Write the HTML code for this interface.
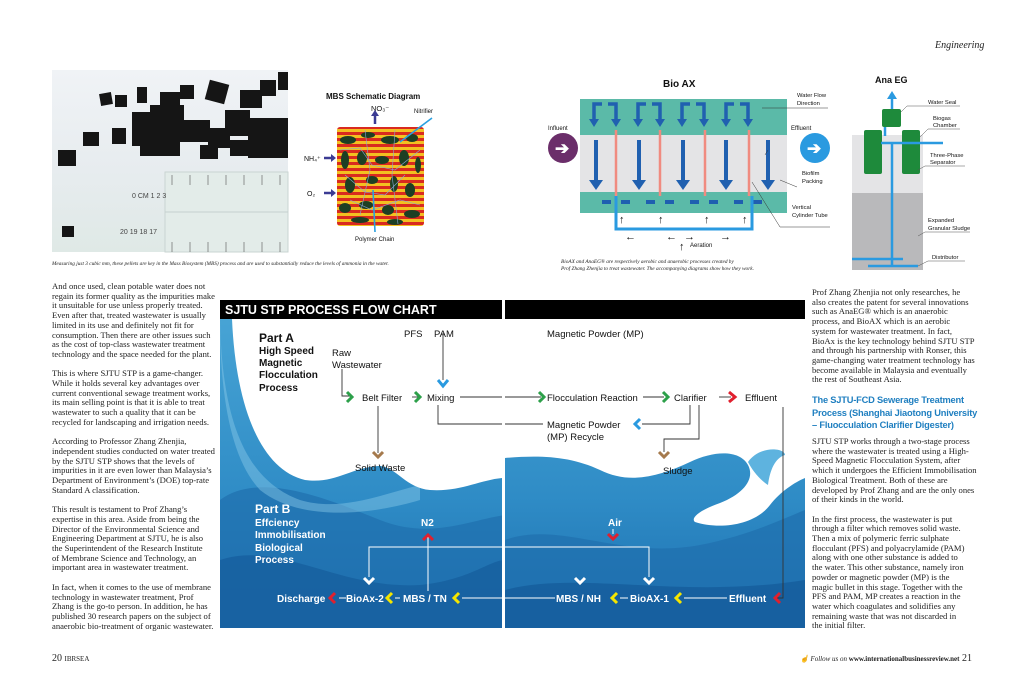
<!DOCTYPE html>
<html><head><meta charset="utf-8"><style>
body{margin:0;width:1024px;height:682px;background:#fff;position:relative;overflow:hidden;font-family:"Liberation Serif",serif;}
.col{position:absolute;font-size:8.6px;line-height:9.7px;color:#222;white-space:pre;}
.abs{position:absolute;}
</style></head><body>
<svg width="1024" height="682" style="position:absolute;left:0;top:0" font-family="Liberation Sans, sans-serif">
<defs>
<linearGradient id="bg" x1="0" y1="0" x2="0" y2="1"><stop offset="0" stop-color="#4aa6d6"/><stop offset="0.6" stop-color="#2f8cc6"/><stop offset="1" stop-color="#1c6fb0"/></linearGradient>
<pattern id="stripe" width="6" height="6" patternUnits="userSpaceOnUse"><rect width="6" height="3" fill="#d92a1f"/><rect y="3" width="6" height="3" fill="#f3c020"/></pattern>
<linearGradient id="photo" x1="0" y1="0" x2="0" y2="1"><stop offset="0" stop-color="#f0f3f6"/><stop offset="0.55" stop-color="#e7ecef"/><stop offset="1" stop-color="#dfe9e6"/></linearGradient>
</defs>

<!-- Photo -->
<rect x="52" y="70" width="236" height="182" fill="url(#photo)"/>
<rect x="165" y="172" width="123" height="80" fill="#e3ece9" stroke="#c9d4d2"/>
<line x1="165" y1="212" x2="288" y2="212" stroke="#c5d0cf"/>
<g stroke="#555" stroke-width="0.6">
<line x1="172" y1="175" x2="172" y2="185"/><line x1="190" y1="175" x2="190" y2="185"/><line x1="208" y1="175" x2="208" y2="185"/><line x1="226" y1="175" x2="226" y2="185"/><line x1="244" y1="175" x2="244" y2="185"/><line x1="262" y1="175" x2="262" y2="185"/><line x1="280" y1="175" x2="280" y2="185"/>
<line x1="172" y1="242" x2="172" y2="252"/><line x1="190" y1="242" x2="190" y2="252"/><line x1="208" y1="242" x2="208" y2="252"/><line x1="226" y1="242" x2="226" y2="252"/><line x1="244" y1="242" x2="244" y2="252"/><line x1="262" y1="242" x2="262" y2="252"/><line x1="280" y1="242" x2="280" y2="252"/>
</g>
<g font-size="7" fill="#444"><text x="132" y="198">0  CM    1         2         3</text><text x="120" y="234">20         19         18         17</text></g>
<g fill="#151515">
<rect x="100" y="93" width="12" height="12" transform="rotate(-10 106 99)"/><rect x="115" y="95" width="12" height="12"/><rect x="137" y="87" width="10" height="16"/><rect x="160" y="92" width="20" height="16"/><rect x="180" y="85" width="14" height="14"/><rect x="207" y="82" width="20" height="20" transform="rotate(15 217 92)"/><rect x="240" y="90" width="22" height="18"/><rect x="260" y="80" width="16" height="16"/><rect x="278" y="72" width="10" height="18"/>
<rect x="83" y="132" width="16" height="14"/><rect x="112" y="128" width="14" height="16"/><rect x="132" y="112" width="26" height="34"/><rect x="150" y="105" width="34" height="30"/><rect x="140" y="128" width="40" height="28"/><rect x="180" y="120" width="30" height="22"/><rect x="208" y="128" width="22" height="20"/><rect x="225" y="110" width="25" height="26"/><rect x="248" y="118" width="40" height="40"/><rect x="230" y="140" width="24" height="16"/><rect x="200" y="145" width="18" height="14"/>
<rect x="58" y="150" width="18" height="16"/><rect x="62" y="226" width="12" height="11"/>
</g>
<text x="52" y="265" font-family="Liberation Serif, serif" font-style="italic" font-size="5.3" fill="#222">Measuring just 3 cubic mm, these pellets are key in the Mass Biosystem (MBS) process and are used to substantially reduce the levels of ammonia in the water.</text>

<!-- MBS -->
<text x="326" y="99" font-size="8" font-weight="bold" fill="#111">MBS Schematic Diagram</text>
<text x="371" y="111" font-size="7.5" fill="#111">NO₃⁻</text>
<text x="414" y="113" font-size="6" fill="#111">Nitrifier</text>
<rect x="337" y="127" width="87" height="99" rx="3" fill="url(#stripe)"/>
<g fill="#1d3f24">
<ellipse cx="348" cy="140" rx="8" ry="4"/><ellipse cx="368" cy="135" rx="7" ry="3"/><ellipse cx="390" cy="140" rx="9" ry="4"/><ellipse cx="412" cy="138" rx="6" ry="4"/><ellipse cx="345" cy="160" rx="4" ry="9"/><ellipse cx="362" cy="158" rx="5" ry="7"/><ellipse cx="382" cy="160" rx="7" ry="4"/><ellipse cx="404" cy="158" rx="5" ry="8"/><ellipse cx="418" cy="165" rx="3" ry="8"/><ellipse cx="350" cy="185" rx="5" ry="8"/><ellipse cx="372" cy="180" rx="6" ry="4"/><ellipse cx="394" cy="184" rx="4" ry="8"/><ellipse cx="410" cy="190" rx="5" ry="7"/><ellipse cx="345" cy="208" rx="6" ry="5"/><ellipse cx="366" cy="205" rx="7" ry="4"/><ellipse cx="388" cy="210" rx="6" ry="5"/><ellipse cx="412" cy="214" rx="8" ry="4"/><ellipse cx="360" cy="220" rx="9" ry="3"/><ellipse cx="395" cy="222" rx="8" ry="3"/>
</g>
<g stroke="#8aa6d6" stroke-width="0.6" fill="none"><path d="M340 150 L360 148 L372 165 L395 170 L420 150 M345 175 L365 192 L385 195 L405 175 M350 200 L372 210 L400 200 L420 205 M365 130 L370 170 L360 215 M395 130 L392 175 L398 224"/></g>
<path d="M375 124 V114" stroke="#3b3b93" stroke-width="2.5"/><path d="M371 116 L375 110 L379 116Z" fill="#3b3b93"/>
<path d="M324 158 H333" stroke="#3b3b93" stroke-width="2.5"/><path d="M331 154 L336 158 L331 162Z" fill="#3b3b93"/>
<path d="M324 193 H333" stroke="#3b3b93" stroke-width="2.5"/><path d="M331 189 L336 193 L331 197Z" fill="#3b3b93"/>
<text x="304" y="161" font-size="7" fill="#111">NH₄⁺</text>
<text x="307" y="196" font-size="7" fill="#111">O₂</text>
<line x1="432" y1="118" x2="400" y2="142" stroke="#2aa0e0" stroke-width="1.6"/>
<line x1="373" y1="190" x2="375" y2="232" stroke="#2aa0e0" stroke-width="1.6"/>
<text x="355" y="241" font-size="6" fill="#111">Polymer Chain</text>

<!-- Bio AX -->
<text x="663" y="87" font-size="10" font-weight="bold" fill="#111">Bio AX</text>
<rect x="580" y="99" width="207" height="36" fill="#5bbaa8"/>
<rect x="580" y="135" width="207" height="57" fill="#e4e4e6"/>
<rect x="580" y="192" width="207" height="21" fill="#5bbaa8"/>
<g stroke="#2060b0" stroke-width="3.5" fill="none">
<path d="M602 104 H594 V120 M608 104 H616 V120"/>
<path d="M646 104 H638 V120 M652 104 H660 V120"/>
<path d="M690 104 H682 V120 M696 104 H704 V120"/>
<path d="M734 104 H726 V120 M740 104 H748 V120"/>
</g>
<g fill="#2060b0"><path d="M589 119 L599 119 L594 127Z"/><path d="M611 119 L621 119 L616 127Z"/><path d="M633 119 L643 119 L638 127Z"/><path d="M655 119 L665 119 L660 127Z"/><path d="M677 119 L687 119 L682 127Z"/><path d="M699 119 L709 119 L704 127Z"/><path d="M721 119 L731 119 L726 127Z"/><path d="M743 119 L753 119 L748 127Z"/></g>
<g stroke="#2060b0" stroke-width="4"><line x1="596" y1="140" x2="596" y2="182"/><line x1="639" y1="140" x2="639" y2="182"/><line x1="683" y1="140" x2="683" y2="182"/><line x1="726" y1="140" x2="726" y2="182"/><line x1="768" y1="140" x2="768" y2="182"/></g>
<g fill="#2060b0"><path d="M589 180 L603 180 L596 190Z"/><path d="M632 180 L646 180 L639 190Z"/><path d="M676 180 L690 180 L683 190Z"/><path d="M719 180 L733 180 L726 190Z"/><path d="M761 180 L775 180 L768 190Z"/></g>
<g stroke="#f08b80" stroke-width="2.5"><line x1="616" y1="130" x2="616" y2="196"/><line x1="660" y1="130" x2="660" y2="196"/><line x1="705" y1="130" x2="705" y2="196"/><line x1="749" y1="130" x2="749" y2="196"/></g>
<g fill="#1f5fb0"><rect x="602" y="200" width="9" height="4"/><rect x="621" y="200" width="9" height="4"/><rect x="646" y="200" width="9" height="4"/><rect x="665" y="200" width="9" height="4"/><rect x="690" y="200" width="9" height="4"/><rect x="709" y="200" width="9" height="4"/><rect x="734" y="200" width="9" height="4"/><rect x="753" y="200" width="9" height="4"/></g>
<path d="M616 196 V229 H752 V196" fill="none" stroke="#2a9ae0" stroke-width="3"/>
<g font-size="11" font-weight="bold" fill="#111"><text x="619" y="223">↑</text><text x="658" y="223">↑</text><text x="704" y="223">↑</text><text x="742" y="223">↑</text><text x="625" y="240">←</text><text x="666" y="240">←</text><text x="684" y="240">→</text><text x="720" y="240">→</text><text x="679" y="250">↑</text></g>
<text x="690" y="247" font-size="6" fill="#111">Aeration</text>
<circle cx="563" cy="148" r="15" fill="#6b2e6a"/><text x="555" y="154" font-size="17" font-weight="bold" fill="#fff">➔</text>
<circle cx="815" cy="148" r="15" fill="#2a9ae0"/><text x="807" y="154" font-size="17" font-weight="bold" fill="#fff">➔</text>
<text x="548" y="130" font-size="6" fill="#111">Influent</text>
<text x="791" y="130" font-size="6" fill="#111">Effluent</text>
<g font-size="5.8" fill="#111"><text x="797" y="97">Water Flow</text><text x="797" y="105">Direction</text><text x="802" y="175">Biofilm</text><text x="802" y="183">Packing</text><text x="792" y="209">Vertical</text><text x="792" y="217">Cylinder Tube</text></g>
<g stroke="#333" stroke-width="0.5" fill="none"><path d="M762 108 H828"/><path d="M768 150 L765 155"/><path d="M780 180 L797 187"/><path d="M752 182 L780 227 H830"/></g>
<text x="561" y="263" font-family="Liberation Serif, serif" font-style="italic" font-size="5.3" fill="#222">BioAX and AnaEG® are respectively aerobic and anaerobic processes created by</text>
<text x="561" y="270" font-family="Liberation Serif, serif" font-style="italic" font-size="5.3" fill="#222">Prof Zhang Zhenjia to treat wastewater. The accompanying diagrams show how they work.</text>

<!-- Ana EG -->
<text x="875" y="83" font-size="9" font-weight="bold" fill="#111">Ana EG</text>
<rect x="852" y="135" width="71" height="58" fill="#e4e4e6"/>
<rect x="852" y="193" width="71" height="77" fill="#b9b9bb"/>
<rect x="864" y="130" width="18" height="44" rx="2" fill="#1e8a3b"/>
<rect x="902" y="130" width="18" height="44" rx="2" fill="#1e8a3b"/>
<rect x="882" y="109" width="19" height="18" rx="2" fill="#1e8a3b"/>
<g stroke="#2a9ae0" stroke-width="2.5"><line x1="892" y1="97" x2="892" y2="109"/><line x1="885" y1="127" x2="885" y2="136"/><line x1="892" y1="143" x2="892" y2="266"/><line x1="881" y1="143" x2="943" y2="143"/><line x1="852" y1="259" x2="903" y2="259"/><line x1="868" y1="266" x2="918" y2="266"/></g>
<path d="M887 99 L892 91 L897 99Z" fill="#2a9ae0"/>
<g font-size="5.8" fill="#111"><text x="928" y="104">Water Seal</text><text x="933" y="120">Biogas</text><text x="933" y="127">Chamber</text><text x="930" y="157">Three-Phase</text><text x="930" y="164">Separator</text><text x="928" y="222">Expanded</text><text x="928" y="230">Granular Sludge</text><text x="932" y="259">Distributor</text></g>
<g stroke="#555" stroke-width="0.5" fill="none"><path d="M901 112 L907 106 H960"/><path d="M920 137 L928 129 H960"/><path d="M918 170 L925 166 H965"/><path d="M918 236 L925 232 H970"/><path d="M918 266 L928 261 H965"/></g>
<text x="935" y="48" font-family="Liberation Serif, serif" font-style="italic" font-size="10" fill="#222">Engineering</text>

<!-- Flow chart -->
<rect x="220" y="300" width="585" height="328" fill="url(#bg)"/>
<path d="M220 500 C260 470 330 500 380 520 C430 540 470 520 505 515 L505 628 L220 628Z" fill="#1f6fae" opacity="0.7"/>
<path d="M220 560 C280 540 340 590 420 585 C470 580 490 560 505 560 L505 628 L220 628Z" fill="#165f9f" opacity="0.8"/>
<path d="M505 540 C560 520 620 560 700 545 C750 535 780 520 805 510 L805 628 L505 628Z" fill="#1f6fae" opacity="0.7"/>
<path d="M505 590 C580 570 680 600 805 580 L805 628 L505 628Z" fill="#155c9c" opacity="0.8"/>
<path d="M220 319 C222 420 245 480 300 500 C340 512 380 495 420 485 L420 500 C370 515 300 522 260 490 C232 460 220 400 220 319Z" fill="#8ac9e9" opacity="0.45"/>
<path d="M232 319 H502 V478 C480 480 460 492 430 490 C405 488 395 465 378 466 C350 468 335 484 305 480 C262 470 236 410 232 319Z" fill="#fff"/>
<path d="M505 319 H805 V478 C795 482 780 492 770 505 C755 525 720 530 695 522 C690 518 700 510 720 503 C745 493 755 478 748 465 C740 450 715 450 690 462 C660 476 630 485 600 470 C570 456 540 455 505 458Z" fill="#fff"/>
<path d="M748 462 C760 445 785 448 785 455 C775 458 770 470 768 485 C760 480 752 470 748 462Z" fill="#5eb3df"/>
<rect x="502" y="300" width="3" height="328" fill="#fff"/>
<rect x="220" y="300" width="282" height="19" fill="#000"/>
<rect x="505" y="300" width="300" height="19" fill="#000"/>
<text x="225" y="314" font-size="12.5" font-weight="bold" fill="#fff">SJTU STP PROCESS FLOW CHART</text>

<g fill="#111">
<text x="259" y="342" font-size="12" font-weight="bold">Part A</text>
<g font-size="10" font-weight="bold"><text x="259" y="354">High Speed</text><text x="259" y="366">Magnetic</text><text x="259" y="378">Flocculation</text><text x="259" y="391">Process</text></g>
<g font-size="9.5"><text x="332" y="356">Raw</text><text x="332" y="368">Wastewater</text><text x="404" y="337">PFS</text><text x="434" y="337">PAM</text><text x="547" y="337">Magnetic Powder (MP)</text>
<text x="362" y="401">Belt Filter</text><text x="427" y="401">Mixing</text><text x="547" y="401">Flocculation Reaction</text><text x="674" y="401">Clarifier</text><text x="745" y="401">Effluent</text>
<text x="547" y="428">Magnetic Powder</text><text x="547" y="440">(MP) Recycle</text><text x="355" y="471">Solid Waste</text><text x="663" y="474">Sludge</text></g>
</g>
<g stroke="#333" stroke-width="0.9" fill="none">
<path d="M342 369 V396 H350"/><path d="M412 397 H420"/><path d="M443 333 V380"/><path d="M460 397 H502 M505 397 H541"/><path d="M643 397 H664"/><path d="M719 397 H731"/>
<path d="M438 405 V424 H502 M505 424 H543"/><path d="M690 405 V424 H642"/><path d="M699 405 V439 H664 V452"/><path d="M378 406 V453"/><path d="M783 407 V598 H777"/>
</g>
<g fill="none" stroke-width="3" stroke-linecap="butt" stroke-linejoin="miter">
<polyline points="347,392 352,397 347,402" stroke="#2da04a"/><polyline points="415,392 420,397 415,402" stroke="#2da04a"/><polyline points="539,392 544,397 539,402" stroke="#2da04a"/><polyline points="663,392 668,397 663,402" stroke="#2da04a"/><polyline points="729,392 735,397 729,402" stroke="#e0202e"/>
<polyline points="438,380 443,386 448,380" stroke="#2a9ae0"/><polyline points="640,419 635,424 640,429" stroke="#2a9ae0"/>
<polyline points="373,452 378,457 383,452" stroke="#a57a4d"/><polyline points="659,452 664,457 669,452" stroke="#a57a4d"/>
</g>
<g fill="#fff">
<text x="255" y="513" font-size="12" font-weight="bold">Part B</text>
<g font-size="10" font-weight="bold"><text x="255" y="526">Effciency</text><text x="255" y="538">Immobilisation</text><text x="255" y="551">Biological</text><text x="255" y="563">Process</text></g>
<g font-size="10" font-weight="bold"><text x="421" y="526">N2</text><text x="608" y="526">Air</text>
<text x="277" y="602">Discharge</text><text x="346" y="602">BioAx-2</text><text x="403" y="602">MBS / TN</text><text x="556" y="602">MBS / NH</text><text x="630" y="602">BioAX-1</text><text x="729" y="602">Effluent</text></g>
</g>
<g stroke="#fff" stroke-width="1" fill="none">
<path d="M369 577 V547 H502 M505 547 H649 V577"/><path d="M428 591 V537"/><path d="M613 529 V534"/>
<path d="M339 598 H346"/><path d="M395 598 H400"/><path d="M462 598 H502 M505 598 H555"/><path d="M620 598 H628"/><path d="M684 598 H727"/>
</g>
<g fill="none" stroke-width="3">
<polyline points="364,578 369,583 374,578" stroke="#fff"/><polyline points="644,578 649,583 654,578" stroke="#fff"/><polyline points="575,578 580,583 585,578" stroke="#fff"/>
<polyline points="423,540 428,535 433,540" stroke="#e0202e"/><polyline points="608,534 613,539 618,534" stroke="#e0202e"/>
<polyline points="335,593 330,598 335,603" stroke="#e0202e"/><polyline points="780,593 775,598 780,603" stroke="#e0202e"/>
<polyline points="392,593 387,598 392,603" stroke="#f5e600"/><polyline points="459,593 454,598 459,603" stroke="#f5e600"/><polyline points="617,593 612,598 617,603" stroke="#f5e600"/><polyline points="681,593 676,598 681,603" stroke="#f5e600"/>
</g>
</svg>

<div class="col" style="left:52px;top:282px;">And once used, clean potable water does not
regain its former quality as the impurities make
it unsuitable for use unless properly treated.
Even after that, treated wastewater is usually
limited in its use and definitely not fit for
consumption. Then there are other issues such
as the cost of top-class wastewater treatment
technology and the space needed for the plant.

This is where SJTU STP is a game-changer.
While it holds several key advantages over
current conventional sewage treatment works,
its main selling point is that it is able to treat
wastewater to such a quality that it can be
recycled for landscaping and irrigation needs.

According to Professor Zhang Zhenjia,
independent studies conducted on water treated
by the SJTU STP shows that the levels of
impurities in it are even lower than Malaysia’s
Department of Environment’s (DOE) top-rate
Standard A classification.

This result is testament to Prof Zhang’s
expertise in this area. Aside from being the
Director of the Environmental Science and
Engineering Department at SJTU, he is also
the Superintendent of the Research Institute
of Membrane Science and Technology, an
important area in wastewater treatment.

In fact, when it comes to the use of membrane
technology in wastewater treatment, Prof
Zhang is the go-to person. In addition, he has
published 30 research papers on the subject of
anaerobic bio-treatment of organic wastewater.</div>

<div class="col" style="left:812px;top:288px;">Prof Zhang Zhenjia not only researches, he
also creates the patent for several innovations
such as AnaEG® which is an anaerobic
process, and BioAX which is an aerobic
system for wastewater treatment. In fact,
BioAx is the key technology behind SJTU STP
and through his partnership with Ronser, this
game-changing water treatment technology has
become available in Malaysia and eventually
the rest of Southeast Asia.</div>
<div class="abs" style="left:812px;top:394px;font-family:'Liberation Sans',sans-serif;font-weight:bold;font-size:9.3px;line-height:12.5px;color:#1f7fc0;white-space:pre;letter-spacing:-0.2px">The SJTU-FCD Sewerage Treatment
Process (Shanghai Jiaotong University
– Fluocculation Clarifier Digester)</div>
<div class="col" style="left:812px;top:437px;">SJTU STP works through a two-stage process
where the wastewater is treated using a High-
Speed Magnetic Flocculation System, after
which it undergoes the Efficient Immobilisation
Biological Treatment. Both of these are
developed by Prof Zhang and are the only ones
of their kinds in the world.

In the first process, the wastewater is put
through a filter which removes solid waste.
Then a mix of polymeric ferric sulphate
flocculant (PFS) and polyacrylamide (PAM)
along with one other substance is added to
the water. This other substance, namely iron
powder or magnetic powder (MP) is the
magic bullet in this stage. Together with the
PFS and PAM, MP creates a reaction in the
water which coagulates and solidifies any
remaining waste that was not discarded in
the initial filter.</div>

<div class="abs" style="left:52px;top:653px;font-size:10px;color:#222">20 <span style="font-size:7px">IBRSEA</span></div>
<div class="abs" style="left:800px;top:653px;font-size:10px;color:#222;white-space:nowrap"><span style="font-size:7px"><i>☝ Follow us on</i> <b>www.internationalbusinessreview.net</b></span> 21</div>
</body></html>
